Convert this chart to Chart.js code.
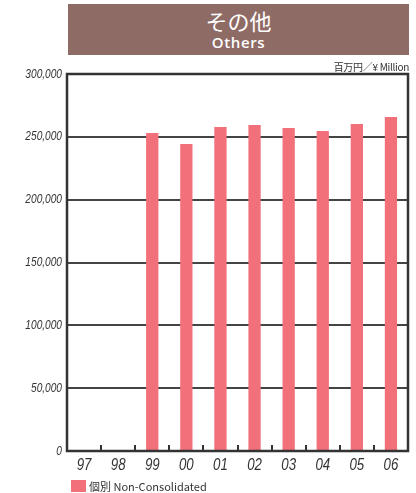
<!DOCTYPE html>
<html>
<head>
<meta charset="utf-8">
<script src="https://cdn.jsdelivr.net/npm/chart.js@4"></script>
<style>
 html, body { margin: 0; padding: 0; background: #fff; }
 #wrap { position: relative; width: 416px; height: 493px; overflow: hidden; }
 #chart { position: absolute; left: 0; top: 0; }
 .title-box {
  position: absolute; left: 68px; top: 4px; width: 341px; height: 51px;
  background: #8f6b66; color: #fff; text-align: center;
  font-family: "Noto Sans CJK JP", "Noto Sans", sans-serif;
 }
 .title-jp { font-size: 22px; line-height: 26px; margin-top: 3px; }
 .title-en { font-size: 15px; line-height: 18px; font-weight: 600; letter-spacing: 0.6px; font-family: "Open Sans", "Noto Sans", sans-serif; }
 .unit {
  position: absolute; right: 7px; top: 59px; font-size: 10px; color: #333;
  font-family: "Noto Sans CJK JP", sans-serif; letter-spacing: -0.3px;
 }
 .legend {
  position: absolute; left: 71px; top: 478px; font-size: 11px; color: #333;
  font-family: "Noto Sans CJK JP", "Noto Sans", sans-serif; display: flex; align-items: center;
 }
 .legend i { display: inline-block; width: 15px; height: 12px; background: #f1707a; margin-right: 3px; }
</style>
</head>
<body>
<div id="wrap">
 <canvas id="chart" width="416" height="493"></canvas>
 <div class="title-box"><div class="title-jp">その他</div><div class="title-en">Others</div></div>
 <div class="unit">百万円／¥ Million</div>
 <div class="legend"><i></i>個別 Non-Consolidated</div>
</div>
<script>
const years = ["97", "98", "99", "00", "01", "02", "03", "04", "05", "06"];
const nonConsolidated = [null, null, 253000, 244300, 257800, 259400, 257000, 254600, 260200, 265800];
const yTicks = [0, 50000, 100000, 150000, 200000, 250000, 300000];

// draws the axis labels narrowed, like the condensed italic of the original
const narrowLabels = {
 id: "narrowLabels",
 afterDraw(chart) {
  const { ctx, scales } = chart;
  const squeeze = 0.78;
  ctx.save();
  ctx.fillStyle = "#333";

  ctx.font = "italic 13px 'Liberation Sans', sans-serif";
  ctx.textAlign = "right";
  ctx.textBaseline = "middle";
  scales.y.ticks.forEach((t, i) => {
   const py = scales.y.getPixelForTick(i);
   ctx.save();
   ctx.translate(62, py);
   ctx.scale(squeeze, 1);
   ctx.fillText(t.value.toLocaleString("en-US"), 0, 0);
   ctx.restore();
  });

  ctx.font = "italic 17px 'Liberation Sans', sans-serif";
  ctx.textAlign = "center";
  scales.x.ticks.forEach((t, i) => {
   const px = scales.x.getPixelForTick(i);
   ctx.save();
   ctx.translate(px, 465);
   ctx.scale(squeeze, 1);
   ctx.fillText(years[i], 0, 0);
   ctx.restore();
  });
  ctx.restore();
 },
};

// small upward ticks between categories on the bottom axis, plus the frame
const catTicks = {
 id: "catTicks",
 afterDatasetsDraw(chart) {
  const { ctx, chartArea } = chart;
  const step = (chartArea.right - chartArea.left) / years.length;
  ctx.save();
  ctx.strokeStyle = "#333";
  ctx.lineWidth = 2;
  for (let i = 1; i < years.length; i++) {
   const px = Math.round(chartArea.left + step * i);
   ctx.beginPath();
   ctx.moveTo(px, chartArea.bottom);
   ctx.lineTo(px, chartArea.bottom - 6);
   ctx.stroke();
  }
  ctx.lineWidth = 2.5;
  ctx.strokeRect(chartArea.left, chartArea.top, chartArea.right - chartArea.left, chartArea.bottom - chartArea.top);
  ctx.restore();
 },
};

new Chart(document.getElementById("chart"), {
 type: "bar",
 data: {
  labels: years,
  datasets: [
   {
    label: "個別 Non-Consolidated",
    data: nonConsolidated,
    backgroundColor: "#f1707a",
    barPercentage: 0.36,
    categoryPercentage: 1,
   },
  ],
 },
 options: {
  responsive: false,
  animation: false,
  layout: { padding: { top: 74, right: 8, left: 0, bottom: 0 } },
  plugins: { legend: { display: false }, tooltip: { enabled: false } },
  scales: {
   y: {
    min: 0,
    max: 300000,
    afterFit(scale) { scale.width = 67; },
    afterBuildTicks(scale) { scale.ticks = yTicks.map((v) => ({ value: v })); },
    grid: { color: "#444", lineWidth: 2, drawTicks: false },
    border: { display: false },
    ticks: { display: false },
   },
   x: {
    afterFit(scale) { scale.height = 42; },
    grid: { display: false },
    border: { display: false },
    ticks: { display: false },
   },
  },
 },
 plugins: [catTicks, narrowLabels],
});
</script>
</body>
</html>
